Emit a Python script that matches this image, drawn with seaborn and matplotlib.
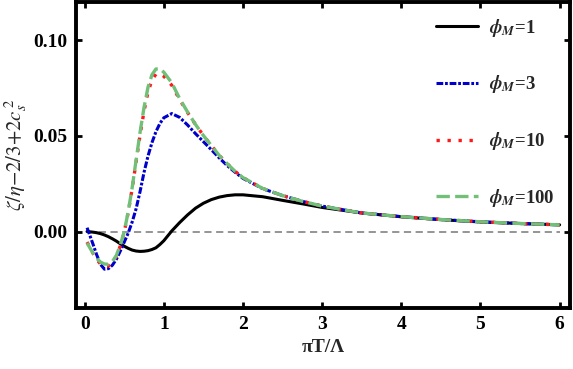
import numpy as np
import pandas as pd
import matplotlib
matplotlib.use("Agg")
import matplotlib.pyplot as plt
import seaborn as sns

# ---- data ----
x_vals = [0.03, 0.1, 0.15, 0.2, 0.25, 0.3, 0.35, 0.4, 0.45, 0.5, 0.55, 0.6, 0.65, 0.7,
          0.75, 0.8, 0.85, 0.9, 0.95, 1.0, 1.1, 1.2, 1.3, 1.4, 1.5, 1.6, 1.7, 1.8, 1.9,
          2.0, 2.25, 2.5, 2.75, 3.0, 3.5, 4.0, 4.5, 5.0, 5.5, 6.0]

phi1 = [0.0000, -0.0003, -0.0006, -0.0011, -0.0018, -0.0027, -0.0038, -0.0050, -0.0064,
        -0.0077, -0.0088, -0.0097, -0.0102, -0.0104, -0.0103, -0.0100, -0.0094, -0.0085,
        -0.0068, -0.0048, 0.0003, 0.0047, 0.0087, 0.0122, 0.0148, 0.0167, 0.0180, 0.0188,
        0.0192, 0.0192, 0.0182, 0.0163, 0.0145, 0.0126, 0.0097, 0.0077, 0.0062, 0.0050,
        0.0042, 0.0035]

phi3 = [0.0020, -0.0060, -0.0120, -0.0172, -0.0197, -0.0194, -0.0176, -0.0145, -0.0102,
        -0.0055, -0.0008, 0.0050, 0.0120, 0.0210, 0.0310, 0.0395, 0.0465, 0.0522, 0.0565,
        0.0595, 0.0617, 0.0597, 0.0557, 0.0512, 0.0470, 0.0428, 0.0385, 0.0345, 0.0310,
        0.0278, 0.0224, 0.0188, 0.0158, 0.0133, 0.0097, 0.0078, 0.0063, 0.0051, 0.0042,
        0.0035]

phi10 = [-0.0055, -0.0110, -0.0145, -0.0170, -0.0182, -0.0180, -0.0163, -0.0130, -0.0075,
         -0.0002, 0.0100, 0.0225, 0.0365, 0.0505, 0.0630, 0.0730, 0.0793, 0.0823, 0.0826,
         0.0812, 0.0765, 0.0690, 0.0622, 0.0560, 0.0502, 0.0450, 0.0398, 0.0355, 0.0315,
         0.0282, 0.0225, 0.0188, 0.0158, 0.0133, 0.0097, 0.0078, 0.0063, 0.0051, 0.0042,
         0.0035]

phi100 = [-0.0060, -0.0110, -0.0140, -0.0160, -0.0170, -0.0171, -0.0157, -0.0125, -0.0070,
          0.0000, 0.0105, 0.0230, 0.0375, 0.0520, 0.0650, 0.0755, 0.0820, 0.0850, 0.0852,
          0.0833, 0.0778, 0.0695, 0.0625, 0.0560, 0.0502, 0.0450, 0.0398, 0.0355, 0.0315,
          0.0282, 0.0225, 0.0188, 0.0158, 0.0133, 0.0097, 0.0078, 0.0063, 0.0051, 0.0042,
          0.0035]

series_labels = [r"$\phi_M$=1", r"$\phi_M$=3", r"$\phi_M$=10", r"$\phi_M$=100"]
x_ticks = [0, 1, 2, 3, 4, 5, 6]
y_ticks = [0.00, 0.05, 0.10]
y_tick_labels = ["0.00", "0.05", "0.10"]

# ---- style ----
sns.set_theme(style="white")
plt.rcParams["font.family"] = ["Liberation Serif", "DejaVu Serif"]
plt.rcParams["mathtext.fontset"] = "custom"
plt.rcParams["mathtext.rm"] = "STIXGeneral:bold"
plt.rcParams["mathtext.it"] = "STIXGeneral:italic:bold"
plt.rcParams["mathtext.bf"] = "STIXGeneral:bold"

fig = plt.figure(figsize=(5.73, 3.69), dpi=100)
ax = fig.add_axes([0.1326, 0.1653, 0.862, 0.829])

colors = ["black", "#0000cc", "#ff1a1a", "#72bf78"]
widths = [2.2, 2.2, 2.4, 2.4]
dash_styles = [None, (2.2, 0.6, 0.9, 0.6), (1.0, 2.3), (4.0, 1.6)]
series = [phi1, phi3, phi10, phi100]

for ys, lab, c, lw, ds in zip(series, series_labels, colors, widths, dash_styles):
    df = pd.DataFrame({"x": x_vals, "y": ys})
    sns.lineplot(data=df, x="x", y="y", ax=ax, color=c, linewidth=lw, label=lab,
                 estimator=None, sort=True)
    if ds is not None:
        ax.lines[-1].set_dashes(ds)

ax.hlines(0, min(x_vals), max(x_ticks), colors="#8c8c8c", linestyles=(0, (4, 2.5)),
          linewidth=1.3, zorder=0.5)

ax.set_xlim(-0.11, 6.13)
ax.set_ylim(-0.04, 0.12)
ax.set_xticks(x_ticks)
ax.set_xticklabels([str(t) for t in x_ticks], fontsize=14, fontweight="bold")
ax.set_yticks(y_ticks)
ax.set_yticklabels(y_tick_labels, fontsize=14, fontweight="bold")
ax.tick_params(direction="in", length=4, width=2, top=True, right=True,
               bottom=True, left=True, pad=6, colors="black")

for sp in ax.spines.values():
    sp.set_linewidth(2.8)
    sp.set_color("black")

ax.set_xlabel("πT/Λ", fontsize=14, fontweight="bold", labelpad=4)
ax.set_ylabel(r"$\zeta/\eta{-}2/3{+}2c_s^{\,2}$", fontsize=15, math_fontfamily="stix")
ax.yaxis.set_label_coords(-0.096, 0.5)

leg = ax.legend(loc="upper right", bbox_to_anchor=(0.995, 0.995), frameon=False,
                fontsize=13.5, labelspacing=1.85, handlelength=2.2, handletextpad=0.6,
                borderaxespad=0.3)
for t in leg.get_texts():
    t.set_fontweight("bold")

fig.savefig("out.png", dpi=100)
